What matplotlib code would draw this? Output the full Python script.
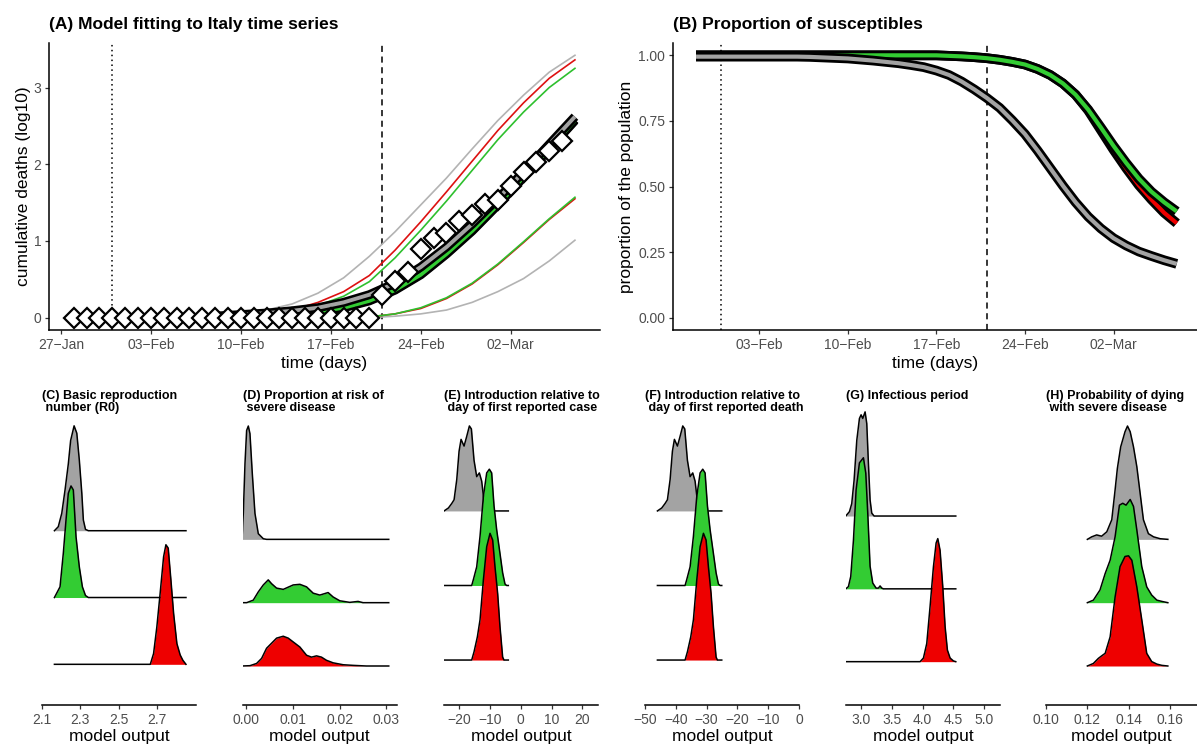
import numpy as np
import matplotlib.pyplot as plt
import matplotlib.dates as mdates

plt.rcParams['font.family'] = ['Liberation Sans', 'DejaVu Sans']

W, H = 1197, 744

GREY, GREEN, RED = '#a3a3a3', '#33cc33', '#ee0000'
THIN_GREY, THIN_GREEN, THIN_RED = '#b3b3b3', '#2ec02e', '#dd1111'

# (A) observed deaths, log10(cumulative + 1)
obs_dates = np.arange('2020-01-28', '2020-03-07', dtype='datetime64[D]')
obs_log = [0, 0, 0, 0, 0, 0, 0, 0, 0, 0, 0, 0, 0, 0, 0, 0, 0, 0, 0, 0, 0, 0, 0, 0,
           0.30, 0.48, 0.60, 0.90, 1.04, 1.11, 1.26, 1.34, 1.48, 1.54, 1.72, 1.90,
           2.03, 2.17, 2.30]

# model fits, every second day from 08-Feb to 07-Mar
fit_dates = np.arange('2020-02-08', '2020-03-08', 2, dtype='datetime64[D]')
upper_grey = [0.02, 0.05, 0.10, 0.18, 0.32, 0.52, 0.80, 1.12, 1.47, 1.82, 2.20, 2.57, 2.90, 3.20, 3.42]
upper_red = [0.01, 0.02, 0.05, 0.10, 0.20, 0.34, 0.55, 0.88, 1.25, 1.64, 2.04, 2.44, 2.80, 3.12, 3.36]
upper_green = [0.01, 0.02, 0.04, 0.08, 0.16, 0.28, 0.47, 0.78, 1.14, 1.52, 1.92, 2.32, 2.68, 3.00, 3.25]
med_grey = [0.02, 0.04, 0.06, 0.09, 0.13, 0.20, 0.30, 0.45, 0.66, 0.92, 1.22, 1.55, 1.90, 2.26, 2.62]
med_green = [0.01, 0.02, 0.03, 0.05, 0.08, 0.13, 0.22, 0.36, 0.56, 0.83, 1.13, 1.47, 1.83, 2.20, 2.57]
med_red = [0.01, 0.02, 0.03, 0.05, 0.08, 0.14, 0.23, 0.37, 0.57, 0.84, 1.14, 1.48, 1.84, 2.21, 2.58]

low_dates = np.arange('2020-02-20', '2020-03-08', 2, dtype='datetime64[D]')
lower_green = [0.01, 0.05, 0.13, 0.26, 0.45, 0.70, 0.99, 1.29, 1.57]
lower_red = [0.01, 0.05, 0.12, 0.25, 0.44, 0.69, 0.98, 1.28, 1.55]
lower_grey = [0.00, 0.02, 0.05, 0.10, 0.20, 0.34, 0.51, 0.74, 1.01]

# (B) proportion susceptible, daily from 29-Jan to 07-Mar
sus_dates = np.arange('2020-01-29', '2020-03-08', dtype='datetime64[D]')
sus_grey = [0.995, 0.995, 0.995, 0.995, 0.995, 0.995, 0.995, 0.995, 0.995, 0.994,
            0.992, 0.990, 0.988, 0.984, 0.980, 0.975, 0.970, 0.963, 0.955, 0.942,
            0.925, 0.900, 0.870, 0.837, 0.800, 0.752, 0.700, 0.637, 0.570, 0.503,
            0.440, 0.385, 0.340, 0.303, 0.275, 0.252, 0.235, 0.219, 0.205]
sus_green = [1.0, 1.0, 1.0, 1.0, 1.0, 1.0, 1.0, 1.0, 1.0, 1.0,
             1.0, 1.0, 1.0, 1.0, 1.0, 1.0, 1.0, 1.0, 1.0, 1.0,
             0.998, 0.996, 0.993, 0.989, 0.983, 0.975, 0.965, 0.948, 0.925, 0.893,
             0.850, 0.793, 0.725, 0.655, 0.590, 0.530, 0.480, 0.440, 0.405]
sus_red = [1.0, 1.0, 1.0, 1.0, 1.0, 1.0, 1.0, 1.0, 1.0, 1.0,
           1.0, 1.0, 1.0, 1.0, 1.0, 1.0, 1.0, 1.0, 1.0, 1.0,
           0.998, 0.996, 0.993, 0.989, 0.983, 0.975, 0.965, 0.948, 0.925, 0.893,
           0.850, 0.790, 0.715, 0.640, 0.570, 0.505, 0.450, 0.400, 0.360]

first_case = np.datetime64('2020-01-31')
first_death = np.datetime64('2020-02-21')
date_ticks = np.array(['2020-01-27', '2020-02-03', '2020-02-10', '2020-02-17',
                       '2020-02-24', '2020-03-02'], dtype='datetime64[D]')
date_labels = ['27−Jan', '03−Feb', '10−Feb', '17−Feb', '24−Feb', '02−Mar']

# (C) R0
c_grey_x = [2.166, 2.186, 2.204, 2.221, 2.238, 2.250, 2.268, 2.282, 2.295, 2.308, 2.316, 2.327, 2.342, 2.848]
c_grey_h = [0, 0.06, 0.26, 0.61, 1.00, 1.35, 1.57, 1.46, 1.06, 0.56, 0.16, 0.02, 0, 0]
c_green_x = [2.166, 2.195, 2.212, 2.226, 2.238, 2.252, 2.264, 2.278, 2.295, 2.311, 2.327, 2.342, 2.848]
c_green_h = [0, 0.16, 0.66, 1.16, 1.56, 1.67, 1.61, 0.91, 0.46, 0.16, 0.03, 0, 0]
c_red_x = [2.166, 2.663, 2.680, 2.697, 2.714, 2.732, 2.744, 2.756, 2.770, 2.784, 2.801, 2.818, 2.832, 2.848]
c_red_h = [0, 0, 0.16, 0.56, 1.06, 1.61, 1.79, 1.74, 1.26, 0.76, 0.31, 0.14, 0.06, 0]

# (D) proportion at risk
d_grey_x = [-0.00085, -0.00057, -0.00021, 0.00014, 0.0005, 0.00085, 0.00135, 0.00192, 0.00263, 0.0037, 0.0044, 0.0305]
d_grey_h = [0, 0.41, 1.20, 1.72, 1.79, 1.67, 1.04, 0.41, 0.09, 0.01, 0, 0]
d_green_x = [-0.00085, 0.00014, 0.00156, 0.00263, 0.0037, 0.00476, 0.00547, 0.00654, 0.00796, 0.01009, 0.01151,
             0.01294, 0.01436, 0.01578, 0.01755, 0.01862, 0.02004, 0.02217, 0.02395, 0.02502, 0.0305]
d_green_h = [0, 0, 0.04, 0.17, 0.28, 0.36, 0.30, 0.23, 0.21, 0.28, 0.29,
             0.25, 0.15, 0.12, 0.16, 0.09, 0.03, 0.005, 0.02, 0, 0]
d_red_x = [-0.00085, 0.00085, 0.00227, 0.00334, 0.0044, 0.00547, 0.00654, 0.00796, 0.00903, 0.01009, 0.01151,
           0.01294, 0.0140, 0.01507, 0.01613, 0.0172, 0.01862, 0.02075, 0.02289, 0.02573, 0.0305]
d_red_h = [0, 0.005, 0.04, 0.12, 0.28, 0.36, 0.44, 0.47, 0.44, 0.38, 0.30,
           0.17, 0.14, 0.16, 0.14, 0.09, 0.05, 0.02, 0.01, 0, 0]

# (E) introduction relative to first case
e_grey_x = [-24.97, -23.56, -22.48, -21.72, -20.85, -20.10, -19.45, -18.47, -17.61, -16.74,
            -16.09, -15.23, -14.36, -13.50, -12.74, -11.98, -11.33, -10.90, -4.08]
e_grey_h = [0, 0.04, 0.10, 0.15, 0.42, 0.80, 0.96, 0.87, 1.00, 1.14,
            1.10, 0.68, 0.46, 0.51, 0.40, 0.13, 0.03, 0, 0]
e_green_x = [-24.97, -15.99, -15.44, -14.36, -13.28, -12.20, -11.11, -10.25, -9.49, -8.73,
             -7.87, -6.79, -5.92, -5.16, -4.62, -4.08]
e_green_h = [0, 0, 0.08, 0.25, 0.66, 1.19, 1.51, 1.56, 1.51, 1.07,
             0.75, 0.43, 0.17, 0.02, 0, 0]
e_red_x = [-24.97, -15.99, -15.23, -14.15, -13.28, -12.20, -11.11, -10.03, -9.17, -8.41,
           -7.54, -6.79, -5.92, -5.49, -4.08]
e_red_h = [0, 0, 0.11, 0.31, 0.54, 1.07, 1.52, 1.70, 1.61, 1.25,
           0.89, 0.45, 0.04, 0, 0]

# (F) introduction relative to first death
f_grey_x = [-45.97, -44.56, -43.48, -42.72, -41.85, -41.10, -40.45, -39.47, -38.61, -37.74,
            -37.09, -36.23, -35.36, -34.50, -33.74, -32.98, -32.33, -31.90, -25.08]
f_grey_h = e_grey_h
f_green_x = [-45.97, -36.99, -36.44, -35.36, -34.28, -33.20, -32.11, -31.25, -30.49, -29.73,
             -28.87, -27.79, -26.92, -26.16, -25.62, -25.08]
f_green_h = e_green_h
f_red_x = [-45.97, -36.99, -36.23, -35.15, -34.28, -33.20, -32.11, -31.03, -30.17, -29.41,
           -28.54, -27.79, -26.92, -26.49, -25.08]
f_red_h = e_red_h

# (G) infectious period
g_grey_x = [2.751, 2.811, 2.848, 2.886, 2.930, 2.973, 3.000, 3.027, 3.065, 3.092, 3.119, 3.146, 3.173, 3.211, 4.537]
g_grey_h = [0, 0.06, 0.17, 0.49, 1.04, 1.34, 1.39, 1.34, 1.43, 1.27, 0.72, 0.22, 0.04, 0, 0]
g_green_x = [2.751, 2.794, 2.832, 2.876, 2.919, 2.973, 3.038, 3.076, 3.108, 3.146, 3.189, 3.244,
             3.281, 3.308, 3.336, 3.363, 4.537]
g_green_h = [0, 0.03, 0.17, 0.67, 1.36, 1.73, 1.80, 1.59, 1.04, 0.31, 0.08, 0.01,
             0.01, 0.04, 0.01, 0, 0]
g_red_x = [2.751, 3.958, 4.012, 4.066, 4.120, 4.174, 4.218, 4.245, 4.282, 4.326, 4.364, 4.401, 4.445, 4.499, 4.537]
g_red_h = [0, 0, 0.05, 0.25, 0.76, 1.30, 1.63, 1.69, 1.53, 1.03, 0.48, 0.16, 0.05, 0.01, 0]

# (H) probability of dying
h_grey_x = [0.1200, 0.1221, 0.1245, 0.1269, 0.1294, 0.1318, 0.1334, 0.1345, 0.1361, 0.1382,
            0.1394, 0.1407, 0.1423, 0.1439, 0.1455, 0.1471, 0.1495, 0.1520, 0.1552, 0.1589]
h_grey_h = [0, 0.04, 0.07, 0.05, 0.12, 0.31, 0.78, 1.12, 1.46, 1.70,
            1.79, 1.70, 1.46, 1.15, 0.73, 0.31, 0.09, 0.04, 0.01, 0]
h_green_x = [0.1200, 0.1229, 0.1261, 0.1286, 0.1310, 0.1334, 0.1355, 0.1371, 0.1387, 0.1407,
             0.1423, 0.1439, 0.1463, 0.1487, 0.1511, 0.1536, 0.1560, 0.1589]
h_green_h = [0, 0.04, 0.20, 0.46, 0.67, 1.04, 1.54, 1.57, 1.54, 1.63,
             1.52, 1.15, 0.57, 0.25, 0.12, 0.04, 0.02, 0]
h_red_x = [0.1200, 0.1229, 0.1253, 0.1269, 0.1286, 0.1310, 0.1334, 0.1358, 0.1382, 0.1399,
           0.1415, 0.1439, 0.1463, 0.1487, 0.1511, 0.1536, 0.1560, 0.1589]
h_red_h = [0, 0.04, 0.12, 0.16, 0.20, 0.46, 1.09, 1.57, 1.73, 1.74,
           1.67, 1.25, 0.73, 0.20, 0.07, 0.03, 0.01, 0]


fig = plt.figure(figsize=(W / 100, H / 100), dpi=100)


def box(l, t, r, b):
    return [l / W, 1 - b / H, (r - l) / W, (b - t) / H]


def classic(ax):
    for s in ['top', 'right']:
        ax.spines[s].set_visible(False)
    for s in ['left', 'bottom']:
        ax.spines[s].set_linewidth(1.1)
    ax.tick_params(length=3, width=0.9, color='#333333', labelcolor='#4d4d4d',
                   labelsize=10, pad=2.5)


def outlined(ax, x, y, col, wb=6.5, wc=2.8):
    ax.plot(x, y, color='black', lw=wb, solid_capstyle='butt', solid_joinstyle='round', zorder=3)
    ax.plot(x, y, color=col, lw=wc, solid_capstyle='butt', solid_joinstyle='round', zorder=3)


def thin(ax, x, y, col):
    ax.plot(x, y, color=col, lw=1.2, solid_joinstyle='round', zorder=2)


d0 = mdates.date2num(np.datetime64('2020-01-27'))

# ---- (A)
ax = fig.add_axes(box(49, 43, 600, 330))
classic(ax)
ax.axvline(first_case, color='black', ls=(0, (1, 2.2)), lw=1.1, zorder=1)
ax.axvline(first_death, color='black', ls=(0, (4, 3)), lw=1.1, zorder=1)
thin(ax, fit_dates, upper_grey, THIN_GREY)
thin(ax, fit_dates, upper_red, THIN_RED)
thin(ax, fit_dates, upper_green, THIN_GREEN)
thin(ax, low_dates, lower_grey, THIN_GREY)
thin(ax, low_dates, lower_red, THIN_RED)
thin(ax, low_dates, lower_green, THIN_GREEN)
outlined(ax, fit_dates, med_red, RED)
outlined(ax, fit_dates, med_green, GREEN)
outlined(ax, fit_dates, med_grey, GREY)
ax.plot(obs_dates, obs_log, 'D', ms=10.5, mfc='white', mec='black', mew=1.6, zorder=5)
ax.set_xlim(d0 - 0.93, d0 + 41.95)
ax.set_ylim(-0.16, 3.58)
ax.set_xticks(mdates.date2num(date_ticks), date_labels)
ax.set_yticks([0, 1, 2, 3])
ax.set_xlabel('time (days)', fontsize=12.5, labelpad=3)
ax.set_ylabel('cumulative deaths (log10)', fontsize=12.5, labelpad=2)
fig.text(49 / W, 1 - 17 / H, '(A) Model fitting to Italy time series',
         fontsize=12.5, weight='bold', va='top')

# ---- (B)
ax = fig.add_axes(box(673, 43, 1197, 330))
classic(ax)
ax.axvline(first_case, color='black', ls=(0, (1, 2.2)), lw=1.1, zorder=1)
ax.axvline(first_death, color='black', ls=(0, (4, 3)), lw=1.1, zorder=1)
outlined(ax, sus_dates, sus_red, RED, 7, 3)
outlined(ax, sus_dates, sus_green, GREEN, 7, 3)
outlined(ax, sus_dates, sus_grey, GREY, 7, 3)
ax.set_xlim(d0 + 0.18, d0 + 41.6)
ax.set_ylim(-0.047, 1.047)
ax.set_xticks(mdates.date2num(date_ticks[1:]), date_labels[1:])
ax.set_yticks([0, 0.25, 0.5, 0.75, 1.0], ['0.00', '0.25', '0.50', '0.75', '1.00'])
ax.set_xlabel('time (days)', fontsize=12.5, labelpad=3)
ax.set_ylabel('proportion of the population', fontsize=12.5, labelpad=3)
fig.text(673 / W, 1 - 17 / H, '(B) Proportion of susceptibles',
         fontsize=12.5, weight='bold', va='top')

# ---- (C)-(H) ridge panels
panels = [
    ('(C) Basic reproduction\n number (R0)', 41.7, 196, (2.1, 2.9), (0.391, 4.807),
     [2.1, 2.3, 2.5, 2.7], ['2.1', '2.3', '2.5', '2.7'],
     [(c_grey_x, c_grey_h), (c_green_x, c_green_h), (c_red_x, c_red_h)]),
    ('(D) Proportion at risk of\n severe disease', 242.7, 396.7, (-0.0007, 0.0322), (0.384, 5.043),
     [0, 0.01, 0.02, 0.03], ['0.00', '0.01', '0.02', '0.03'],
     [(d_grey_x, d_grey_h), (d_green_x, d_green_h), (d_red_x, d_red_h)]),
    ('(E) Introduction relative to\n day of first reported case', 444, 597.7, (-25, 25), (0.397, 4.354),
     [-20, -10, 0, 10, 20], ['−20', '−10', '0', '10', '20'],
     [(e_grey_x, e_grey_h), (e_green_x, e_green_h), (e_red_x, e_red_h)]),
    ('(F) Introduction relative to\n day of first reported death', 645, 799, (-50, 0), (0.397, 4.354),
     [-50, -40, -30, -20, -10, 0], ['−50', '−40', '−30', '−20', '−10', '0'],
     [(f_grey_x, f_grey_h), (f_green_x, f_green_h), (f_red_x, f_red_h)]),
    ('(G) Infectious period', 845.7, 1000, (2.75, 5.255), (0.405, 4.456),
     [3.0, 3.5, 4.0, 4.5, 5.0], ['3.0', '3.5', '4.0', '4.5', '5.0'],
     [(g_grey_x, g_grey_h), (g_green_x, g_green_h), (g_red_x, g_red_h)]),
    ('(H) Probability of dying\n with severe disease', 1046, 1197, (0.10, 0.173), (0.384, 5.043),
     [0.10, 0.12, 0.14, 0.16], ['0.10', '0.12', '0.14', '0.16'],
     [(h_grey_x, h_grey_h), (h_green_x, h_green_h), (h_red_x, h_red_h)]),
]

for title, left, right, xlim, ylim, ticks, labels, ridges in panels:
    ax = fig.add_axes(box(left, 410, right, 705))
    classic(ax)
    ax.spines['left'].set_visible(False)
    ax.set_yticks([])
    rows = [3, 2, 1]
    for (x, h), row, col in zip(ridges, rows, [GREY, GREEN, RED]):
        top = row + np.asarray(h)
        ax.fill_between(x, row, top, color=col, lw=0, zorder=2 + 4 - row)
        ax.plot(x, top, color='black', lw=1.1, solid_joinstyle='round', zorder=2 + 4 - row)
    ax.set_xlim(*xlim)
    ax.set_ylim(*ylim)
    ax.set_xticks(ticks, labels)
    ax.set_xlabel('model output', fontsize=12.5, labelpad=1.5)
    fig.text(left / W, 1 - 390 / H, title, fontsize=9, weight='bold', va='top',
             linespacing=1.05)

fig.savefig('out.png', dpi=100)
